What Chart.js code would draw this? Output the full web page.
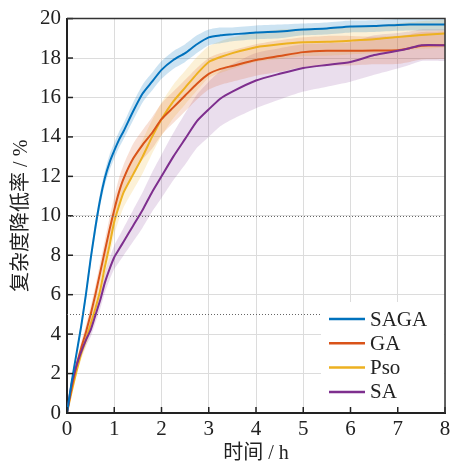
<!DOCTYPE html>
<html lang="zh">
<head>
<meta charset="utf-8">
<title>复杂度降低率</title>
<script src="https://cdn.jsdelivr.net/npm/chart.js@4.4.1/dist/chart.umd.min.js"></script>
<style>
    html, body { margin: 0; padding: 0; background: #fff; }
    #wrap { width: 450px; height: 466px; }
</style>
</head>
<body>
<div id="wrap"><canvas id="lineChart" width="450" height="466"></canvas></div>
<script>
// Tidpunkter (h)
const hours = [0, 0.1, 0.2, 0.3, 0.4, 0.5, 0.6, 0.7, 0.8, 0.9, 1.0, 1.1, 1.2, 1.4, 1.6, 1.8, 2.0, 2.25, 2.5, 2.75, 3.0, 3.25, 3.5, 4.0, 4.5, 5.0, 5.5, 6.0, 6.5, 7.0, 7.25, 7.5, 8.0];

// Medelvärden per algoritm (%)
const sagaValues = [0, 1.6, 3.0, 4.4, 6.0, 7.8, 9.4, 10.8, 11.9, 12.7, 13.3, 13.85, 14.3, 15.3, 16.2, 16.8, 17.4, 17.9, 18.25, 18.7, 19.05, 19.15, 19.2, 19.3, 19.35, 19.45, 19.5, 19.6, 19.62, 19.68, 19.7, 19.7, 19.7];
const gaValues = [0, 1.3, 2.4, 3.3, 4.1, 5.0, 6.0, 7.1, 8.2, 9.3, 10.3, 11.2, 11.9, 12.9, 13.6, 14.2, 14.9, 15.5, 16.1, 16.7, 17.2, 17.45, 17.6, 17.9, 18.1, 18.3, 18.37, 18.37, 18.38, 18.4, 18.5, 18.62, 18.65];
const psoValues = [0, 1.1, 2.1, 3.0, 3.7, 4.5, 5.3, 6.2, 7.4, 8.5, 9.7, 10.5, 11.2, 12.1, 13.0, 14.0, 14.9, 15.8, 16.5, 17.2, 17.8, 18.05, 18.25, 18.55, 18.7, 18.8, 18.82, 18.88, 18.95, 19.07, 19.12, 19.17, 19.24];
const saValues = [0, 1.5, 2.4, 3.1, 3.7, 4.2, 4.95, 5.7, 6.6, 7.3, 7.9, 8.3, 8.7, 9.5, 10.3, 11.2, 12.0, 13.0, 13.9, 14.8, 15.4, 15.95, 16.3, 16.86, 17.2, 17.5, 17.65, 17.8, 18.15, 18.37, 18.5, 18.65, 18.65];

// Spridning (halva bandbredden, %)
const sagaSpread = [0, 0.1, 0.2, 0.25, 0.3, 0.3, 0.35, 0.35, 0.35, 0.4, 0.4, 0.4, 0.4, 0.45, 0.45, 0.45, 0.45, 0.45, 0.45, 0.45, 0.4, 0.4, 0.35, 0.35, 0.35, 0.3, 0.3, 0.3, 0.3, 0.3, 0.3, 0.3, 0.3];
const gaSpread = [0, 0.1, 0.2, 0.3, 0.35, 0.4, 0.45, 0.5, 0.55, 0.6, 0.65, 0.7, 0.7, 0.75, 0.75, 0.8, 0.8, 0.8, 0.8, 0.8, 0.8, 0.8, 0.8, 0.8, 0.8, 0.75, 0.75, 0.75, 0.7, 0.7, 0.7, 0.7, 0.7];
const psoSpread = [0, 0.1, 0.2, 0.3, 0.35, 0.4, 0.45, 0.5, 0.55, 0.6, 0.65, 0.7, 0.75, 0.8, 0.85, 0.85, 0.85, 0.85, 0.85, 0.85, 0.8, 0.8, 0.8, 0.75, 0.75, 0.7, 0.7, 0.7, 0.7, 0.7, 0.7, 0.7, 0.7];
const saSpread = [0, 0.1, 0.2, 0.25, 0.3, 0.35, 0.4, 0.45, 0.5, 0.55, 0.6, 0.65, 0.7, 0.8, 0.9, 1.0, 1.1, 1.2, 1.3, 1.35, 1.4, 1.4, 1.4, 1.4, 1.3, 1.2, 1.1, 1.0, 1.0, 0.9, 0.85, 0.8, 0.8];

const seriesNames = ['SAGA', 'GA', 'Pso', 'SA'];
const xTicks = [0, 1, 2, 3, 4, 5, 6, 7, 8];
const yTicks = [0, 2, 4, 6, 8, 10, 12, 14, 16, 18, 20];
const refLevels = [10, 5];

const FONT = '"Liberation Serif", "Times New Roman", "Noto Sans CJK SC", serif';

/**
 * Bygger punktlista {x, y} från tidpunkter och värden.
 * @param {Array} values - Värden per tidpunkt.
 * @param {number} sign - +1/-1 för bandkant, 0 för medelvärde.
 * @param {Array} spread - Spridning per tidpunkt.
 */
function toPoints(values, sign, spread) {
    return hours.map((h, i) => ({ x: h, y: values[i] + sign * (spread ? spread[i] : 0) }));
}

const series = [
    { name: seriesNames[0], values: sagaValues, spread: sagaSpread, color: '#0072BD', band: 'rgba(0, 114, 189, 0.2)', order: 1 },
    { name: seriesNames[1], values: gaValues, spread: gaSpread, color: '#D95319', band: 'rgba(217, 83, 25, 0.18)', order: 3 },
    { name: seriesNames[2], values: psoValues, spread: psoSpread, color: '#EDB120', band: 'rgba(237, 177, 32, 0.18)', order: 4 },
    { name: seriesNames[3], values: saValues, spread: saSpread, color: '#7E2F8E', band: 'rgba(126, 47, 142, 0.16)', order: 2 }
];

// Band (nedre + övre kant) följt av själva linjerna
const datasets = [];
series.forEach(s => {
    datasets.push({
        label: s.name + ' min', data: toPoints(s.values, -1, s.spread),
        borderWidth: 0, pointRadius: 0, fill: false, tension: 0.2, order: 10
    });
    datasets.push({
        label: s.name + ' max', data: toPoints(s.values, 1, s.spread),
        borderWidth: 0, pointRadius: 0, fill: '-1', backgroundColor: s.band, tension: 0.2, order: 10
    });
});
series.forEach(s => {
    datasets.push({
        label: s.name, data: toPoints(s.values, 0),
        borderColor: s.color, borderWidth: 2, pointRadius: 0, fill: false,
        tension: 0.2, order: s.order
    });
});

// Referenslinjer, ram, inåtriktade ticks och förklaring
const decorPlugin = {
    id: 'decor',
    afterDraw(chart) {
        const { ctx, chartArea: a, scales: { x, y } } = chart;
        ctx.save();

        // streckade nivålinjer
        ctx.strokeStyle = '#666';
        ctx.lineWidth = 1;
        ctx.setLineDash([1, 2]);
        refLevels.forEach(v => {
            const py = Math.round(y.getPixelForValue(v)) + 0.5;
            ctx.beginPath();
            ctx.moveTo(a.left, py);
            ctx.lineTo(a.right - 4, py);
            ctx.stroke();
        });
        ctx.setLineDash([]);

        // förklaringsruta
        const boxW = 124, boxH = 105;
        const bx = a.right - boxW, by = a.bottom - 6 - boxH;
        ctx.fillStyle = '#fff';
        ctx.fillRect(bx, by, boxW - 1, boxH);
        ctx.font = '21px ' + FONT;
        ctx.textBaseline = 'middle';
        series.forEach((s, i) => {
            const cy = by + 17 + i * 24.3;
            ctx.strokeStyle = s.color;
            ctx.lineWidth = 2.5;
            ctx.beginPath();
            ctx.moveTo(bx + 8, cy);
            ctx.lineTo(bx + 44, cy);
            ctx.stroke();
            ctx.fillStyle = '#222';
            ctx.fillText(s.name, bx + 49, cy + 1);
        });

        // ticks inåt
        ctx.strokeStyle = '#222';
        ctx.lineWidth = 1.5;
        yTicks.forEach(v => {
            const py = y.getPixelForValue(v);
            ctx.beginPath();
            ctx.moveTo(a.left, py);
            ctx.lineTo(a.left + 6, py);
            ctx.stroke();
        });
        xTicks.forEach(v => {
            const px = x.getPixelForValue(v);
            ctx.beginPath();
            ctx.moveTo(px, a.bottom);
            ctx.lineTo(px, a.bottom - 6);
            ctx.stroke();
        });

        // övre och högra ramkant
        ctx.strokeStyle = '#333';
        ctx.lineWidth = 1.5;
        ctx.beginPath();
        ctx.moveTo(a.left, a.top);
        ctx.lineTo(a.right, a.top);
        ctx.lineTo(a.right, a.bottom);
        ctx.stroke();
        ctx.restore();
    }
};

function createLineChart() {
    const ctx = document.getElementById('lineChart');
    new Chart(ctx, {
        type: 'line',
        data: { datasets: datasets },
        options: {
            responsive: false,
            animation: false,
            layout: { padding: { top: 16, right: 0, left: 0, bottom: 0 } },
            plugins: {
                legend: { display: false },
                tooltip: { enabled: false },
                filler: { drawTime: 'beforeDatasetsDraw' }
            },
            scales: {
                x: {
                    type: 'linear', min: 0, max: 8,
                    afterFit: scale => {
                        scale.height = 53;
                        scale.paddingLeft = 0;
                        scale.paddingRight = 5;
                    },
                    afterBuildTicks: scale => { scale.ticks = xTicks.map(v => ({ value: v })); },
                    ticks: { color: '#222', padding: 4, font: { family: FONT, size: 21 } },
                    grid: { color: '#dcdcdc', lineWidth: 1, drawTicks: false },
                    border: { color: '#222', width: 2 },
                    title: { display: true, text: '时间 / h', color: '#222', padding: { top: 0, bottom: 0 }, font: { family: FONT, size: 20 } }
                },
                y: {
                    min: 0, max: 20,
                    afterFit: scale => { scale.width = 67; },
                    afterBuildTicks: scale => { scale.ticks = yTicks.map(v => ({ value: v })); },
                    ticks: { color: '#222', padding: 6, font: { family: FONT, size: 21 } },
                    grid: { color: '#dcdcdc', lineWidth: 1, drawTicks: false },
                    border: { color: '#222', width: 2 },
                    title: { display: true, text: '复杂度降低率 / %', color: '#222', padding: { top: 10, bottom: 0 }, font: { family: FONT, size: 20 } }
                }
            }
        },
        plugins: [decorPlugin]
    });
}

createLineChart();
</script>
</body>
</html>
